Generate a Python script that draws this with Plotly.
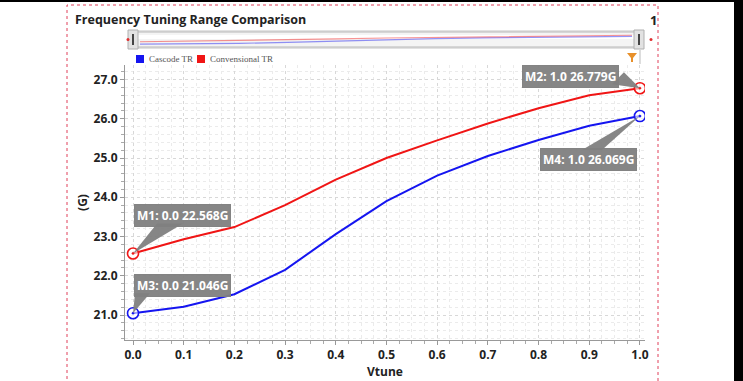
import plotly.graph_objects as go

# ---- data ----
vtune = [0.0, 0.1, 0.2, 0.3, 0.4, 0.5, 0.6, 0.7, 0.8, 0.9, 1.0]
cascode = [21.046, 21.21, 21.53, 22.15, 23.06, 23.90, 24.55, 25.05, 25.46, 25.82, 26.069]
conv = [22.568, 22.93, 23.24, 23.80, 24.45, 25.00, 25.45, 25.88, 26.27, 26.60, 26.779]
series_names = ["Cascode TR", "Convensional TR"]
series_colors = ["#1515f0", "#f01515"]
marker_labels = ["M1", "M2", "M3", "M4"]

W, H = 743, 381
L, R, T, B = 125, 645, 28, 340  # paper box in px
def px(x): return (x - L) / (R - L)
def py(y): return (B - y) / (B - T)

fig = go.Figure()

for name, ys, col in [(series_names[0], cascode, series_colors[0]), (series_names[1], conv, series_colors[1])]:
    fig.add_trace(go.Scatter(x=vtune, y=ys, mode="lines", line=dict(color=col, width=2),
                             name=name, showlegend=False, xaxis="x", yaxis="y"))
    fig.add_trace(go.Scatter(x=[vtune[0], vtune[-1]], y=[ys[0], ys[-1]], mode="markers",
                             marker=dict(symbol="circle-dot", size=11, color="rgba(255,255,255,0.6)",
                                         line=dict(color=col, width=1.6)),
                             showlegend=False, xaxis="x", yaxis="y"))
    fig.add_trace(go.Scatter(x=vtune, y=ys, mode="lines", line=dict(color=col, width=1.2),
                             opacity=0.45, showlegend=False, xaxis="x2", yaxis="y2", hoverinfo="skip"))

shapes = []
annotations = []

callouts = [
    (marker_labels[0], vtune[0], conv[0], 49, -38, "M0,0 L24,30 L50,30 Z"),
    (marker_labels[1], vtune[-1], conv[-1], -69, -12, "M0,0 L-28,4 L-16,16 Z"),
    (marker_labels[2], vtune[0], cascode[0], 49, -28, "M0,0 L2,20 L17,20 Z"),
    (marker_labels[3], vtune[-1], cascode[-1], -51, 43, "M0,0 L-58,-34 L-38,-34 Z"),
]
for lab, xv, yv, ax, ay, path in callouts:
    shapes.append(dict(type="path", xref="x", yref="y", xsizemode="pixel", ysizemode="pixel",
                       xanchor=xv, yanchor=yv, path=path, fillcolor="rgba(128,128,128,0.95)",
                       line=dict(width=0), layer="above"))
    annotations.append(dict(x=xv, y=yv, xref="x", yref="y", ax=ax, ay=ay, showarrow=True,
                            arrowcolor="rgba(0,0,0,0)", arrowwidth=0.1,
                            text=f"<b>{lab}: {xv:.1f} {yv:.3f}G</b>",
                            font=dict(family="Open Sans", size=12, color="white"),
                            bgcolor="rgba(128,128,128,0.95)", borderpad=2, bordercolor="rgba(128,128,128,0.95)",
                            borderwidth=1))

# slider tube
shapes += [
    dict(type="rect", xref="paper", yref="paper", x0=px(133), x1=px(639), y0=py(48), y1=py(31),
         fillcolor="#d6d6d6", line=dict(color="#c4c4c4", width=1), layer="below"),
    dict(type="rect", xref="paper", yref="paper", x0=px(135), x1=px(637), y0=py(46), y1=py(33),
         fillcolor="#f4f4f4", line=dict(width=0), layer="below"),
    dict(type="rect", xref="paper", yref="paper", x0=px(135), x1=px(637), y0=py(39), y1=py(35),
         fillcolor="#ffffff", line=dict(width=0), layer="below"),
]
for hx, dot in [(133, 128), (639, 651)]:
    shapes.append(dict(type="rect", xref="paper", yref="paper", x0=px(hx - 5), x1=px(hx + 5),
                       y0=py(49), y1=py(30), fillcolor="#e2e2e2", line=dict(color="#b0b0b0", width=1)))
    shapes.append(dict(type="rect", xref="paper", yref="paper", x0=px(hx - 1), x1=px(hx + 1),
                       y0=py(45), y1=py(34), fillcolor="#444", line=dict(width=0)))
    shapes.append(dict(type="circle", xref="paper", yref="paper", x0=px(dot - 1.5), x1=px(dot + 1.5),
                       y0=py(41), y1=py(38), fillcolor="#e03030", line=dict(width=0)))

# legend (manual)
lx = [136, 197]
for i in range(2):
    shapes.append(dict(type="rect", xref="paper", yref="paper", x0=px(lx[i]), x1=px(lx[i] + 8),
                       y0=py(63), y1=py(55), fillcolor=series_colors[i], line=dict(width=0)))
    annotations.append(dict(x=px(lx[i] + 11), y=py(59), xref="paper", yref="paper", showarrow=False,
                            xanchor="left", yanchor="middle", text=series_names[i],
                            font=dict(family="Liberation Serif", size=9, color="#555")))

# filter icon
shapes.append(dict(type="path", xref="paper", yref="paper",
                   path=f"M{px(627)},{py(53)} L{px(637)},{py(53)} L{px(633)},{py(58)} L{px(633)},{py(62)} L{px(631)},{py(62)} L{px(631)},{py(58)} Z",
                   fillcolor="#e8902a", line=dict(width=0)))
shapes.append(dict(type="line", xref="paper", yref="paper", x0=px(640), x1=px(640), y0=py(50), y1=py(64),
                   line=dict(color="#bbb", width=1)))

# border frames
shapes.append(dict(type="rect", xref="paper", yref="paper", x0=px(67), x1=px(658), y0=py(390), y1=py(5),
                   line=dict(color="#e0405a", width=1, dash="dot"), fillcolor="rgba(0,0,0,0)"))
shapes.append(dict(type="rect", xref="paper", yref="paper", x0=px(734), x1=px(750), y0=py(400), y1=py(-5),
                   fillcolor="black", line=dict(width=0)))
shapes.append(dict(type="line", xref="paper", yref="paper", x0=px(0), x1=px(743), y0=py(1), y1=py(1),
                   line=dict(color="black", width=2)))

annotations.append(dict(x=px(653), y=py(20), xref="paper", yref="paper", showarrow=False,
                        text="<b>1</b>", font=dict(family="Open Sans", size=13, color="#222"),
                        xanchor="center", yanchor="middle"))

axis_font = dict(family="Open Sans", size=12, color="#222", weight="bold")
fig.update_layout(
    width=W, height=H,
    margin=dict(l=L, r=W - R, t=T, b=H - B, pad=0, autoexpand=False),
    paper_bgcolor="white", plot_bgcolor="white",
    title=dict(text="<b>Frequency Tuning Range Comparison</b>", x=75 / W, xanchor="left",
               xref="container", yref="container", y=1 - 20 / H, yanchor="middle",
               font=dict(family="Open Sans", size=12.5, color="#222")),
    xaxis=dict(range=[-0.0158, 1.01], domain=[0, 1], anchor="y", tickvals=vtune, tickformat=".1f",
               automargin=False,
               showline=True, linecolor="#999", ticks="outside", ticklen=4, tickcolor="#999",
               showgrid=True, gridcolor="#d8d8d8", griddash="dot", zeroline=False,
               tickfont=axis_font,
               minor=dict(dtick=0.025, ticks="outside", ticklen=3, tickcolor="#aaa",
                          showgrid=True, gridcolor="#ebebeb", griddash="dot"),
               title=dict(text="Vtune", font=axis_font, standoff=4)),
    yaxis=dict(range=[20.363, 27.37], domain=[0, py(65)], anchor="x", dtick=1, tickformat=".1f",
               automargin=False,
               showline=True, linecolor="#999", ticks="outside", ticklen=4, tickcolor="#999",
               showgrid=True, gridcolor="#d8d8d8", griddash="dot", zeroline=False,
               tickfont=axis_font,
               minor=dict(dtick=0.2, ticks="outside", ticklen=3, tickcolor="#aaa",
                          showgrid=True, gridcolor="#ebebeb", griddash="dot"),
               title=dict(text="(G)", font=axis_font, standoff=3)),
    xaxis2=dict(domain=[px(140), px(632)], range=[0, 1], anchor="y2", visible=False),
    yaxis2=dict(domain=[py(46), py(34)], range=[19.8, 27.6], anchor="x2", visible=False),
    shapes=shapes, annotations=annotations, showlegend=False,
)

post = ("document.body.style.margin='0px';document.body.style.overflow='hidden';"
        "var bar=document.createElement('div');"
        "bar.style.cssText='position:fixed;top:0;left:0;width:100%;height:2px;background:#000;z-index:1000;';"
        "document.body.appendChild(bar);")
fig.write_html("out.html", config={"displayModeBar": False}, post_script=post)
